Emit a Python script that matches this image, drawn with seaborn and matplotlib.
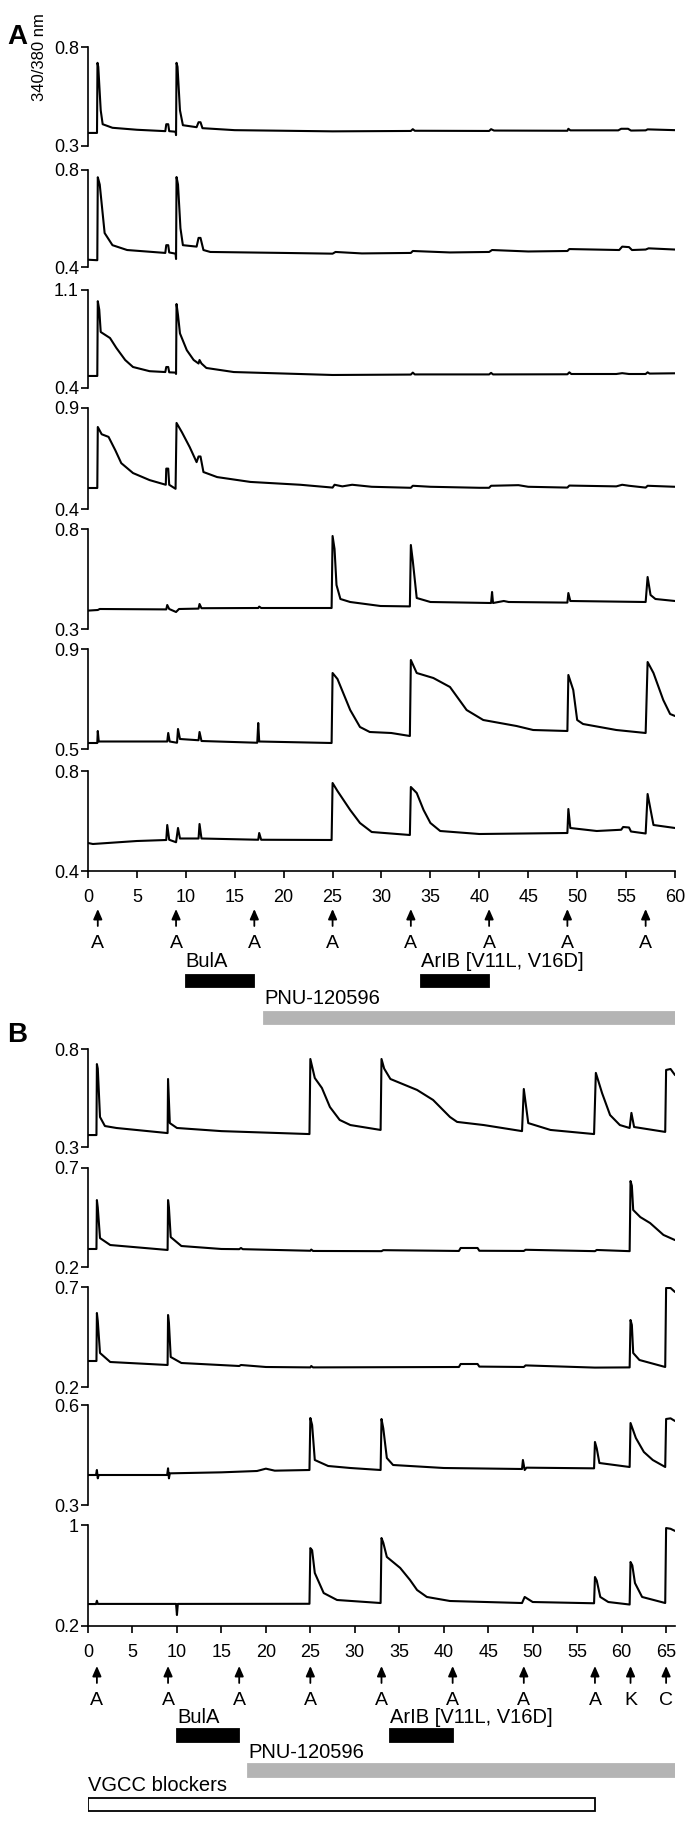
import matplotlib
matplotlib.use("Agg")
import matplotlib.pyplot as plt
import seaborn as sns


# ---- data (time in min, 340/380 nm ratio) ----

# stimulus times and labels
A_STIM_T = [1, 9, 17, 25, 33, 41, 49, 57]
A_STIM_LAB = ["A", "A", "A", "A", "A", "A", "A", "A"]
B_STIM_T = [1, 9, 17, 25, 33, 41, 49, 57, 61, 65]
B_STIM_LAB = ["A", "A", "A", "A", "A", "A", "A", "A", "K", "C"]

# drug applications: name, start, end
A_DRUGS = [("BulA", 10, 17), ("ArIB [V11L, V16D]", 34, 41), ("PNU-120596", 18, 60)]
B_DRUGS = [("BulA", 10, 17), ("ArIB [V11L, V16D]", 34, 41), ("PNU-120596", 18, 66),
           ("VGCC blockers", 0, 57)]

# y-axis ranges (bottom, top) of each trace
A_YLIM = [(0.3, 0.8), (0.4, 0.8), (0.4, 1.1), (0.4, 0.9), (0.3, 0.8), (0.5, 0.9), (0.4, 0.8)]
B_YLIM = [(0.3, 0.8), (0.2, 0.7), (0.2, 0.7), (0.3, 0.6), (0.2, 1.0)]

A_XTICKS = [0, 5, 10, 15, 20, 25, 30, 35, 40, 45, 50, 55, 60]
B_XTICKS = [0, 5, 10, 15, 20, 25, 30, 35, 40, 45, 50, 55, 60, 65]

# panel A traces
A1_T = [0, 0.92, 0.97, 1.05, 1.3, 1.5, 2.5, 5, 7.9, 8.0, 8.2, 8.3, 8.95, 9.0, 9.05, 9.15, 9.4,
        9.7, 11.1, 11.3, 11.5, 11.7, 15, 25, 33, 33.2, 33.4, 41, 41.2, 41.5, 49, 49.1, 49.3,
        54.2, 54.5, 55.2, 55.5, 57, 57.2, 60]
A1_V = [0.366, 0.366, 0.72, 0.70, 0.48, 0.41, 0.392, 0.382, 0.375, 0.41, 0.41, 0.375, 0.372,
        0.355, 0.72, 0.70, 0.48, 0.405, 0.395, 0.42, 0.42, 0.39, 0.38, 0.374, 0.376, 0.385,
        0.377, 0.376, 0.385, 0.378, 0.377, 0.387, 0.379, 0.379, 0.387, 0.387, 0.378, 0.379,
        0.384, 0.38]

A2_T = [0, 0.95, 1.0, 1.2, 1.45, 1.7, 2.5, 4, 7.9, 8.0, 8.2, 8.3, 8.95, 9.0, 9.05, 9.2, 9.45,
        9.7, 11.1, 11.3, 11.5, 11.8, 12.5, 20, 25, 25.3, 28, 33, 33.2, 37, 41, 41.3, 45, 49,
        49.2, 54.3, 54.6, 55.3, 55.6, 57, 57.3, 60]
A2_V = [0.43, 0.428, 0.77, 0.74, 0.64, 0.54, 0.49, 0.47, 0.458, 0.49, 0.49, 0.46, 0.455, 0.433,
        0.771, 0.74, 0.56, 0.49, 0.484, 0.52, 0.52, 0.47, 0.462, 0.458, 0.455, 0.462, 0.456,
        0.458, 0.466, 0.46, 0.462, 0.47, 0.464, 0.466, 0.474, 0.47, 0.484, 0.482, 0.47, 0.472,
        0.477, 0.472]

A3_T = [0, 0.95, 1.0, 1.15, 1.3, 2.25, 2.9, 3.8, 4.6, 6.3, 7.9, 8.0, 8.2, 8.3, 8.95, 9.0, 9.05,
        9.2, 9.4, 10.1, 10.8, 11.3, 11.4, 11.6, 12.1, 14.9, 25, 33, 33.2, 33.4, 41, 41.2, 41.4,
        49, 49.2, 49.4, 54, 54.6, 55.3, 57, 57.2, 57.4, 60]
A3_V = [0.486, 0.486, 1.02, 0.96, 0.80, 0.757, 0.686, 0.60, 0.55, 0.52, 0.514, 0.55, 0.55,
        0.512, 0.51, 0.50, 1.0, 0.92, 0.79, 0.67, 0.60, 0.575, 0.60, 0.575, 0.543, 0.514,
        0.493, 0.496, 0.51, 0.497, 0.497, 0.508, 0.497, 0.498, 0.512, 0.5, 0.5, 0.506, 0.5,
        0.5, 0.512, 0.503, 0.505]

A4_T = [0, 0.95, 1.0, 1.4, 2.1, 2.8, 3.4, 4.6, 6.3, 7.95, 8.0, 8.2, 8.3, 8.95, 9.05, 9.6, 10.4,
        11.1, 11.3, 11.5, 11.8, 13.2, 16.6, 21.7, 25, 25.2, 26, 27, 29, 33, 33.2, 35, 40, 41,
        41.2, 44, 45, 49, 49.2, 54, 54.6, 55.3, 57, 57.2, 60]
A4_V = [0.504, 0.504, 0.806, 0.77, 0.757, 0.69, 0.627, 0.578, 0.543, 0.52, 0.60, 0.60, 0.52,
        0.5, 0.826, 0.78, 0.706, 0.632, 0.66, 0.66, 0.583, 0.558, 0.534, 0.52, 0.506, 0.52,
        0.512, 0.52, 0.51, 0.505, 0.515, 0.51, 0.505, 0.505, 0.515, 0.518, 0.51, 0.506, 0.516,
        0.512, 0.52, 0.515, 0.506, 0.515, 0.51]

A5_T = [0, 1, 1.2, 8, 8.1, 8.3, 9.0, 9.3, 11.3, 11.4, 11.6, 17.4, 17.5, 17.7, 24.9, 25.0, 25.2,
        25.4, 25.8, 26.8, 29.9, 32.9, 33.0, 33.2, 33.6, 35, 41.2, 41.3, 41.4, 42.5, 43, 49.0,
        49.1, 49.3, 57.0, 57.2, 57.5, 58, 60]
A5_V = [0.392, 0.395, 0.4, 0.398, 0.42, 0.40, 0.385, 0.4, 0.402, 0.425, 0.404, 0.405, 0.412,
        0.405, 0.405, 0.765, 0.70, 0.52, 0.45, 0.435, 0.415, 0.413, 0.72, 0.64, 0.455, 0.435,
        0.43, 0.485, 0.43, 0.44, 0.435, 0.432, 0.48, 0.44, 0.435, 0.56, 0.47, 0.45, 0.44]

A6_T = [0, 0.95, 1.0, 1.1, 8.1, 8.2, 8.35, 9.1, 9.2, 9.4, 11.3, 11.4, 11.6, 17.3, 17.4, 17.5,
        24.9, 25.0, 25.5, 26.8, 27.8, 28.8, 31, 32.9, 33.0, 33.6, 35.3, 37, 38.7, 40.4, 42.1,
        43.8, 45.5, 49.0, 49.1, 49.6, 50, 50.6, 54, 57.0, 57.2, 57.8, 58.8, 59.5, 60]
A6_V = [0.524, 0.524, 0.572, 0.53, 0.53, 0.564, 0.53, 0.525, 0.58, 0.54, 0.535, 0.568, 0.532,
        0.525, 0.604, 0.53, 0.524, 0.804, 0.78, 0.656, 0.588, 0.568, 0.564, 0.552, 0.856, 0.804,
        0.784, 0.748, 0.656, 0.616, 0.604, 0.592, 0.576, 0.572, 0.796, 0.736, 0.616, 0.6,
        0.576, 0.564, 0.848, 0.804, 0.696, 0.64, 0.632]

A7_T = [0, 0.5, 5, 8.0, 8.1, 8.3, 9.0, 9.2, 9.4, 11.3, 11.4, 11.6, 17.4, 17.5, 17.7, 24.9, 25.0,
        25.5, 26.8, 27.8, 29, 32.9, 33.0, 33.6, 34.3, 35, 36, 40, 49.0, 49.1, 49.3, 52, 54.5,
        54.7, 55.3, 55.5, 57.0, 57.2, 57.8, 60]
A7_V = [0.512, 0.508, 0.52, 0.524, 0.584, 0.525, 0.515, 0.572, 0.53, 0.53, 0.588, 0.53, 0.525,
        0.552, 0.525, 0.524, 0.752, 0.72, 0.644, 0.592, 0.556, 0.544, 0.736, 0.712, 0.644,
        0.592, 0.56, 0.548, 0.552, 0.648, 0.572, 0.56, 0.565, 0.576, 0.574, 0.558, 0.55, 0.708,
        0.584, 0.572]

# panel B traces
B1_T = [0, 0.95, 1.0, 1.1, 1.35, 1.9, 3.2, 8.95, 9.0, 9.2, 10, 15, 24.9, 25.0, 25.5, 26.3,
        27.2, 28.3, 29.5, 32.9, 33.0, 33.3, 34.0, 37, 38.8, 40.7, 41.5, 44.5, 48.8, 49.0, 49.5,
        52, 56.9, 57.1, 57.8, 58.7, 59.8, 60.9, 61.1, 61.4, 64.9, 65.0, 65.5, 66]
B1_V = [0.361, 0.361, 0.723, 0.70, 0.453, 0.407, 0.397, 0.371, 0.647, 0.422, 0.397, 0.381,
        0.366, 0.749, 0.652, 0.601, 0.504, 0.438, 0.412, 0.387, 0.749, 0.70, 0.647, 0.591, 0.54,
        0.453, 0.428, 0.412, 0.381, 0.596, 0.422, 0.387, 0.366, 0.678, 0.575, 0.463, 0.412,
        0.397, 0.474, 0.402, 0.377, 0.693, 0.698, 0.667]

B2_T = [0, 0.95, 1.0, 1.1, 1.35, 2.5, 8.95, 9.0, 9.1, 9.3, 10.5, 15, 17, 17.2, 17.4, 25, 25.1,
        25.3, 33, 33.2, 41.7, 41.9, 43.8, 44, 49, 49.2, 57, 57.2, 60.9, 61.0, 61.15, 61.3, 62.1,
        63.2, 64.7, 66]
B2_V = [0.291, 0.291, 0.538, 0.50, 0.346, 0.311, 0.286, 0.538, 0.50, 0.351, 0.306, 0.291, 0.29,
        0.296, 0.29, 0.282, 0.288, 0.281, 0.28, 0.285, 0.281, 0.296, 0.296, 0.282, 0.281, 0.287,
        0.28, 0.286, 0.28, 0.634, 0.61, 0.488, 0.452, 0.422, 0.362, 0.336]

B3_T = [0, 0.95, 1.0, 1.1, 1.35, 2.5, 8.95, 9.0, 9.1, 9.3, 10.5, 17, 17.2, 20, 25, 25.1, 25.3,
        41.7, 41.9, 43.8, 44, 49, 49.2, 57, 60.9, 61.0, 61.15, 61.3, 62, 64.9, 65.0, 65.5, 66]
B3_V = [0.33, 0.33, 0.57, 0.53, 0.37, 0.325, 0.31, 0.56, 0.52, 0.35, 0.32, 0.305, 0.31, 0.30,
        0.298, 0.305, 0.298, 0.3, 0.315, 0.315, 0.302, 0.3, 0.308, 0.297, 0.298, 0.535, 0.51,
        0.37, 0.335, 0.30, 0.695, 0.695, 0.675]

B4_T = [0, 0.9, 1.0, 1.1, 1.2, 8.9, 9.0, 9.1, 9.2, 15, 19, 20, 21, 24.9, 25.0, 25.2, 25.5, 27,
        29.5, 32.9, 33.0, 33.2, 33.6, 34.3, 40, 48.8, 48.9, 49.1, 49.3, 56.9, 57.0, 57.2, 57.5,
        60.9, 61.0, 61.6, 62.5, 63.5, 64.9, 65.0, 65.5, 66]
B4_V = [0.39, 0.39, 0.405, 0.38, 0.39, 0.39, 0.41, 0.38, 0.395, 0.398, 0.402, 0.409, 0.403,
        0.405, 0.561, 0.54, 0.435, 0.417, 0.411, 0.405, 0.558, 0.53, 0.441, 0.42, 0.411, 0.408,
        0.435, 0.405, 0.412, 0.41, 0.489, 0.47, 0.426, 0.414, 0.546, 0.501, 0.459, 0.435, 0.414,
        0.558, 0.56, 0.552]

B5_T = [0, 0.9, 1.0, 1.1, 9.9, 10.0, 10.1, 24.9, 25.0, 25.2, 25.5, 26.5, 28, 32.9, 33.0, 33.2,
        33.6, 35.1, 36.2, 37, 38.1, 40.7, 48.8, 49.1, 50, 56.9, 57.0, 57.2, 57.6, 58.5, 60.9,
        61.0, 61.2, 61.5, 62.3, 64.9, 65.0, 65.5, 66]
B5_V = [0.374, 0.374, 0.40, 0.375, 0.375, 0.287, 0.375, 0.376, 0.817, 0.80, 0.62, 0.461, 0.406,
        0.382, 0.897, 0.86, 0.747, 0.66, 0.565, 0.485, 0.43, 0.398, 0.382, 0.43, 0.39, 0.38,
        0.588, 0.56, 0.43, 0.39, 0.37, 0.707, 0.68, 0.54, 0.43, 0.382, 0.976, 0.97, 0.953]

PANEL_A = [(A1_T, A1_V), (A2_T, A2_V), (A3_T, A3_V), (A4_T, A4_V),
           (A5_T, A5_V), (A6_T, A6_V), (A7_T, A7_V)]
PANEL_B = [(B1_T, B1_V), (B2_T, B2_V), (B3_T, B3_V), (B4_T, B4_V), (B5_T, B5_V)]


# ---- layout (pixels of the 700 x 1826 output) ----
W, H = 700, 1826
X0, X1 = 88, 675
A_ROWS = [(47, 146), (170, 267), (290, 388), (408, 509), (529, 629), (649, 749), (771, 871)]
B_ROWS = [(1049, 1147), (1168, 1267), (1287, 1387), (1405, 1505), (1525, 1626)]

sns.set_theme(style="white", rc={"axes.edgecolor": "black", "xtick.color": "black",
                                 "ytick.color": "black", "text.color": "black"})
plt.rcParams["font.family"] = ["Liberation Sans", "DejaVu Sans"]


def px_axes(fig, left, top, right, bottom):
    return fig.add_axes([left / W, 1 - bottom / H, (right - left) / W, (bottom - top) / H])


def draw_traces(fig, traces, ylims, rows, xmax, xticks):
    for i, ((t, v), (lo, hi), (top, bot)) in enumerate(zip(traces, ylims, rows)):
        ax = px_axes(fig, X0, top, X1, bot)
        sns.lineplot(x=t, y=v, ax=ax, color="black", linewidth=1.5,
                     sort=False, estimator=None)
        ax.set_xlim(0, xmax)
        ax.set_ylim(lo, hi)
        ax.set_yticks([lo, hi])
        ax.set_yticklabels([f"{lo:g}", f"{hi:g}"])
        ax.tick_params(axis="y", left=True, direction="out", length=5, width=1.2,
                       pad=1.5, labelsize=13)
        for s in ["top", "right"]:
            ax.spines[s].set_visible(False)
        ax.spines["left"].set_linewidth(1.2)
        last = i == len(traces) - 1
        if last:
            ax.spines["bottom"].set_linewidth(1.2)
            ax.set_xticks(xticks)
            ax.tick_params(axis="x", bottom=True, direction="out", length=5, width=1.2,
                           pad=8, labelsize=13)
        else:
            ax.spines["bottom"].set_visible(False)
            ax.set_xticks([])


def draw_annotations(ax, stim_t, stim_lab, drugs, y):
    # arrows for stimulus applications
    for t, lab in zip(stim_t, stim_lab):
        ax.annotate("", xy=(t, y["arrow"][0]), xytext=(t, y["arrow"][1]),
                    arrowprops=dict(arrowstyle="-|>,head_length=0.5,head_width=0.22",
                                    color="black", lw=1.3, shrinkA=0, shrinkB=0))
        ax.text(t, y["letter"], lab, ha="center", va="center", fontsize=14)
    # drug bars
    for (name, start, end), (yc, h, fc, ytxt) in zip(drugs, y["bars"]):
        ax.barh(yc, end - start, left=start, height=h, color=fc,
                edgecolor="black" if fc == "white" else fc, linewidth=1.3)
        ax.text(start, ytxt, name, ha="left", va="bottom", fontsize=14.5)


fig = plt.figure(figsize=(W / 100, H / 100), dpi=100)

draw_traces(fig, PANEL_A, A_YLIM, A_ROWS, 60, A_XTICKS)
draw_traces(fig, PANEL_B, B_YLIM, B_ROWS, 66, B_XTICKS)

ann_a = px_axes(fig, X0, 871, X1, 1035)
ann_a.set_xlim(0, 60)
ann_a.set_ylim(1035, 871)
ann_a.axis("off")
draw_annotations(ann_a, A_STIM_T, A_STIM_LAB, A_DRUGS, {
    "arrow": (909, 926), "letter": 944,
    "bars": [(981, 12, "black", 971), (981, 12, "black", 971), (1018, 12, "#b4b4b4", 1008)],
})

ann_b = px_axes(fig, X0, 1626, X1, 1826)
ann_b.set_xlim(0, 66)
ann_b.set_ylim(1826, 1626)
ann_b.axis("off")
draw_annotations(ann_b, B_STIM_T, B_STIM_LAB, B_DRUGS, {
    "arrow": (1666, 1683), "letter": 1700,
    "bars": [(1735.5, 13, "black", 1727), (1735.5, 13, "black", 1727),
             (1770.5, 13, "#b4b4b4", 1762), (1804, 13, "white", 1795)],
})

# panel letters and y label
fig.text(17 / W, 1 - 37 / H, "A", fontsize=20, fontweight="bold", ha="center", va="center")
fig.text(17 / W, 1 - 1035 / H, "B", fontsize=20, fontweight="bold", ha="center", va="center")
fig.text(39 / W, 1 - 57 / H, "340/380 nm", rotation=90, fontsize=12, ha="center", va="center")

fig.savefig("out.png", dpi=100)
